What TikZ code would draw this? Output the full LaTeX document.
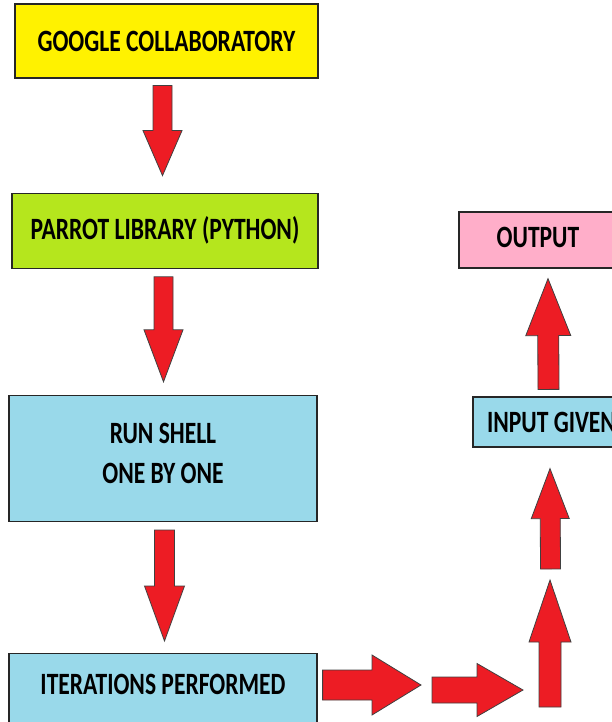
\documentclass[tikz,border=0pt]{standalone}
\usepackage{fontspec}
\setmainfont{Carlito}[FakeStretch=0.76]
\usepackage{xcolor}
\usepackage{tikz}
\usetikzlibrary{calc,positioning}

\definecolor{gcyellow}{HTML}{FFF200}
\definecolor{parrotgreen}{HTML}{B5E61D}
\definecolor{shellblue}{HTML}{99D9EA}
\definecolor{outpink}{HTML}{FFAEC9}
\definecolor{arrowred}{HTML}{ED1C24}

\tikzset{
  box/.style={draw=black!85, line width=1.2pt, inner sep=0pt, align=center,
              font=\fontsize{31}{40}\selectfont\bfseries},
}

\newcommand{\fatarrow}[5]{%
  \path #1 coordinate (fa-s) #2 coordinate (fa-e);
  \path ($(fa-e)!#5!(fa-s)$) coordinate (fa-h);
  \filldraw[fill=arrowred, draw=black!75, line width=0.8pt]
    ($(fa-s)!#3!90:(fa-e)$) -- ($(fa-h)!#3!90:(fa-e)$) -- ($(fa-h)!#4!90:(fa-e)$)
    -- (fa-e) -- ($(fa-h)!#4!-90:(fa-e)$) -- ($(fa-h)!#3!-90:(fa-e)$)
    -- ($(fa-s)!#3!-90:(fa-e)$) -- cycle;
}

\begin{document}
\begin{tikzpicture}[x=1pt,y=-1pt]
                \useasboundingbox (0,0) rectangle (612,722);
                \clip (0,0) rectangle (612,722);

                \node [box, fill=gcyellow, minimum width=303pt, minimum height=74pt]
                        (gc) at (166.5,41) {GOOGLE COLLABORATORY};
                \node [box, fill=parrotgreen, minimum width=306pt, minimum height=75pt,
                        below = 114pt of gc, xshift=-1.5pt]
                                        (parrot) {PARROT LIBRARY (PYTHON)};
                \node [box, fill=shellblue, minimum width=308pt, minimum height=126pt,
                        text depth=10pt, below = 126pt of parrot, xshift=-2pt]
                                        (shell) {RUN SHELL\\ONE BY ONE};
                \node [box, fill=shellblue, minimum width=308pt, minimum height=80pt,
                        text depth=18pt, below = 131pt of shell]
                                        (iter) {ITERATIONS PERFORMED};
                \node [box, fill=shellblue, minimum width=157pt, minimum height=50pt]
                        (input) at (551.5,422) {INPUT GIVEN};
                \node [box, fill=outpink, minimum width=158pt, minimum height=56pt,
                        text depth=5pt]
                        (output) at (538,240) {OUTPUT};

                \coordinate (a1) at (421,685);
                \coordinate (b0) at (432,690);
                \coordinate (b1) at (523,690);
                \coordinate (c0) at (550,707);
                \coordinate (c1) at (550,580);
                \coordinate (d0) at (550.5,569);

                \fatarrow{([xshift=-4pt,yshift=-7pt]gc.south)}{([xshift=-2.5pt,yshift=17pt]parrot.north)}{9.5pt}{19.5pt}{45pt}
                \fatarrow{([xshift=-1.5pt,yshift=-8pt]parrot.south)}{([xshift=0.5pt,yshift=13pt]shell.north)}{9.5pt}{19.5pt}{52pt}
                \fatarrow{([xshift=1.5pt,yshift=-8pt]shell.south)}{([xshift=1.5pt,yshift=12pt]iter.north)}{10pt}{20pt}{55pt}
                \fatarrow{($(iter.east |- a1)+(5,0)$)}{(a1)}{15pt}{30pt}{49pt}
                \fatarrow{(b0)}{(b1)}{13pt}{26.5pt}{46pt}
                \fatarrow{(c0)}{(c1)}{11pt}{21pt}{62pt}
                \fatarrow{(d0)}{([xshift=-1.5pt,yshift=-21pt]input.south)}{10pt}{19pt}{50pt}
                \fatarrow{([xshift=-3pt,yshift=7pt]input.north)}{([xshift=10pt,yshift=-10pt]output.south)}{10.5pt}{22.5pt}{57pt}
            \end{tikzpicture}
\end{document}
